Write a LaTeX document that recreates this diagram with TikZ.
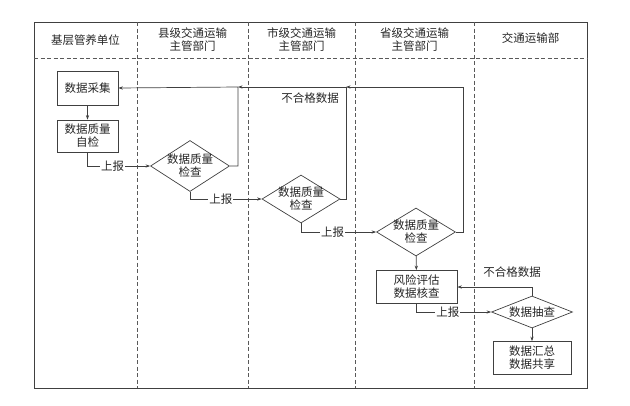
\documentclass[tikz,border=0pt]{standalone}
\usepackage{fontspec}
\setmainfont{Noto Sans CJK SC}
\usetikzlibrary{arrows.meta,shapes.geometric}
\begin{document}
\begin{tikzpicture}[x=1pt,y=-1pt,
  every node/.style={font=\fontsize{11.5}{13}\selectfont, text=black!85},
  ln/.style={draw=black!75, line width=0.7pt},
  arr/.style={ln, -{Stealth[length=4.5pt,width=3.2pt]}},
  box/.style={ln, rectangle, inner sep=0pt, align=center},
  dia/.style={ln, diamond, inner sep=0pt},
  lab/.style={fill=white, inner sep=1pt},
  lane/.style={draw=black!65, line width=0.6pt, dash pattern=on 4pt off 2.5pt},
  head/.style={align=center},
]
\useasboundingbox (0,0) rectangle (630,405);
% frame and lanes
\draw[ln] (34,22) rectangle (587,388);
\draw[lane] (34,58) -- (587,58);
\foreach \x in {137,248,355,474} \draw[lane] (\x,22) -- (\x,388);
% headers
\node[head] (h1) at (85.5,40) {基层管养单位};
\node[head] (h2) at (192.5,40) {县级交通运输\\主管部门};
\node[head] (h3) at (301.5,40) {市级交通运输\\主管部门};
\node[head] (h4) at (414.5,40) {省级交通运输\\主管部门};
\node[head] (h5) at (530.5,38) {交通运输部};
% nodes
\node[box, minimum width=61pt, minimum height=34pt] (cj) at (87.5,88) {数据采集};
\node[box, minimum width=61pt, minimum height=32pt] (zj) at (87.5,136) {数据质量\\自检};
\node[dia, minimum width=79pt, minimum height=51pt] (d1) at (190,166) {};
\node[align=center] (t1) at (d1) {数据质量\\检查};
\node[dia, minimum width=78pt, minimum height=48pt] (d2) at (301,199) {};
\node[align=center] (t2) at (d2) {数据质量\\检查};
\node[dia, minimum width=79pt, minimum height=48pt] (d3) at (416,232) {};
\node[align=center] (t3) at (d3) {数据质量\\检查};
\node[box, minimum width=81pt, minimum height=33pt] (fx) at (416.5,287) {风险评估\\数据核查};
\node[dia, minimum width=81pt, minimum height=32pt] (d4) at (532,312) {};
\node (t4) at (d4) {数据抽查};
\node[box, minimum width=78pt, minimum height=33pt] (hz) at (532,358) {数据汇总\\数据共享};
% junctions
\coordinate (c1) at (238,87);
\coordinate (c2) at (346,87);
\coordinate (c3) at (463,87);
\coordinate (c4) at (532,287);
% connectors
\draw[arr] (cj) -- (zj);
\draw[arr] (zj.south) |- node[lab, pos=0.7] {上报} (d1.west);
\draw[arr] (d1.south) |- node[lab, pos=0.715] {上报} (d2.west);
\draw[arr] (d2.south) |- node[lab, pos=0.71] {上报} (d3.west);
\draw[arr] (d3) -- (fx);
\draw[arr] (fx.south) |- node[lab, pos=0.71] {上报} (d4.west);
\draw[arr] (d4) -- (hz);
\draw[arr] (d1.east) -| (c1) -- (cj.east);
\draw[arr] (d2.east) -| (c2) -- (c1);
\draw[arr] (d3.east) -| (c3) -- (c2);
\draw[arr] (d4.north) -- (c4) -- (fx.east);
\node (n1) at (310,98) {不合格数据};
\node (n2) at (512,272) {不合格数据};
\end{tikzpicture}
\end{document}
